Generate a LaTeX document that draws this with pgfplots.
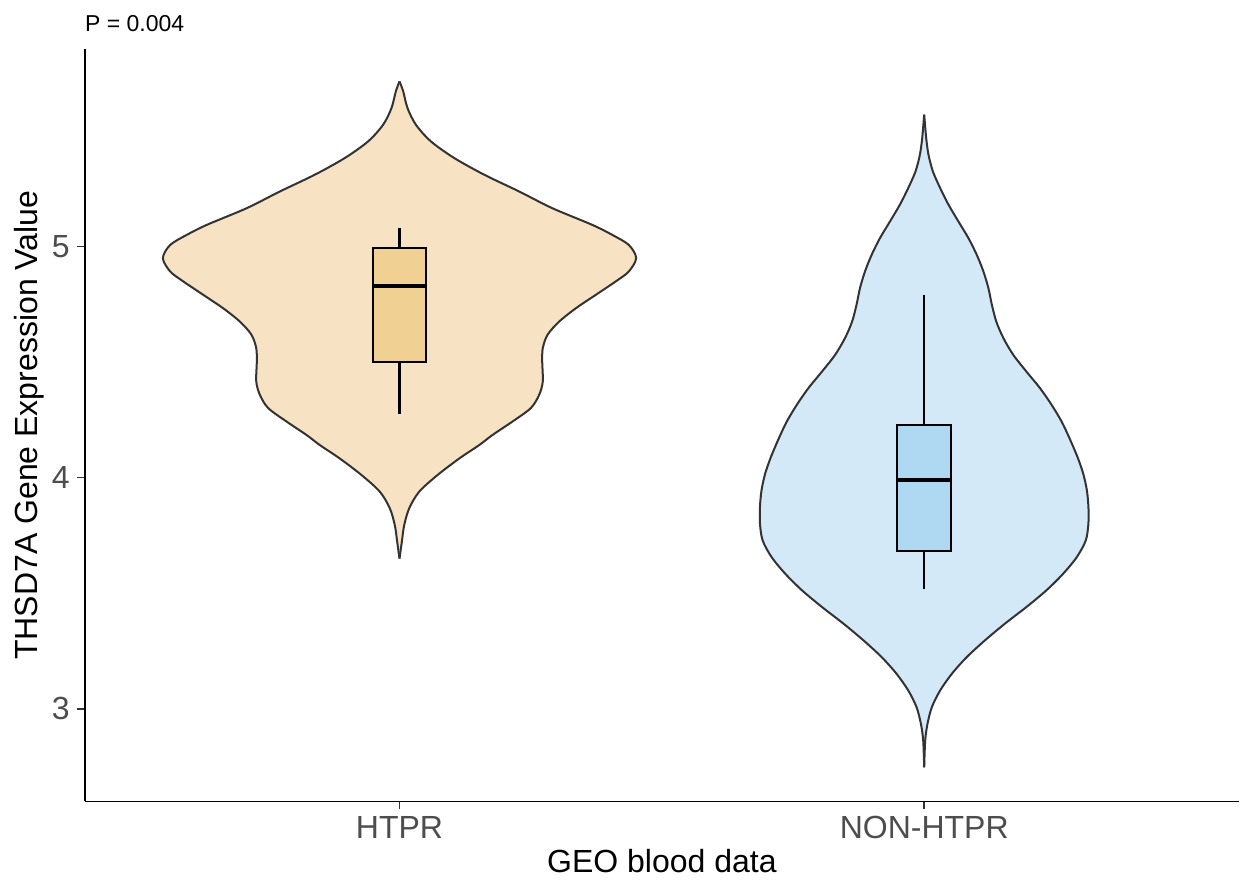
\documentclass[border=0pt]{standalone}
\usepackage{pgfplots}
\pgfplotsset{compat=1.18}
\usepgfplotslibrary{fillbetween}
\usepackage{pgfplotstable}
\usepackage{fontspec}
\setmainfont{Liberation Sans}
\definecolor{htprv}{HTML}{F7E3C3}
\definecolor{htprb}{HTML}{F1D093}
\definecolor{nonv}{HTML}{D4E9F8}
\definecolor{nonb}{HTML}{AFD9F2}
\definecolor{outl}{HTML}{333333}
\definecolor{tickg}{HTML}{4D4D4D}

% violin half-widths (v = expression value, w = half width)
\pgfplotstableread{
v w
5.713 0
5.670 0.0070
5.598 0.0152
5.526 0.0311
5.454 0.0596
5.382 0.104
5.310 0.161
5.237 0.228
5.165 0.291
5.093 0.367
5.050 0.405
5.006 0.437
4.949 0.451
4.891 0.437
4.848 0.412
4.790 0.374
4.732 0.336
4.674 0.304
4.617 0.282
4.559 0.273
4.501 0.272
4.415 0.273
4.357 0.266
4.300 0.250
4.242 0.215
4.184 0.177
4.141 0.152
4.083 0.114
4.011 0.0723
3.939 0.0374
3.867 0.0184
3.794 0.0089
3.722 0.0044
3.650 0
}\htpr

\pgfplotstableread{
v w
5.569 0
5.468 0.0038
5.396 0.0082
5.324 0.0165
5.252 0.0304
5.180 0.0463
5.107 0.0653
5.035 0.0844
4.963 0.1002
4.891 0.1129
4.819 0.1224
4.747 0.1290
4.674 0.1375
4.603 0.151
4.530 0.170
4.458 0.195
4.386 0.221
4.314 0.243
4.242 0.262
4.170 0.277
4.090 0.292
4.018 0.303
3.946 0.310
3.874 0.313
3.802 0.313
3.729 0.308
3.657 0.291
3.585 0.265
3.513 0.233
3.441 0.195
3.369 0.154
3.297 0.116
3.224 0.081
3.152 0.0527
3.080 0.0304
3.008 0.0146
2.936 0.0063
2.864 0.0019
2.748 0
}\nonhtpr

\begin{document}
\begin{tikzpicture}
\begin{axis}[name=ax, scale only axis, width=577.15pt, height=376.25pt,
  xmin=0.4, xmax=2.6, ymin=2.6, ymax=5.853,
  axis x line*=bottom, axis y line*=left,
  axis line style={black, line width=0.9pt},
  xtick={1,2}, xticklabels={HTPR,NON-HTPR},
  ytick={3,4,5},
  tick align=outside, major tick length=4pt,
  tick style={outl, line width=0.8pt},
  ticklabel style={font=\fontsize{16}{19}\selectfont, text=tickg},
  /pgf/number format/assume math mode=true,
  xlabel={GEO blood data}, ylabel={THSD7A Gene Expression Value},
  label style={font=\fontsize{16}{19}\selectfont},
  xlabel style={at={(axis description cs:0.5,0)}, anchor=base, yshift=-35.6pt},
  ylabel style={at={(axis description cs:-0.0407,0.5)}, anchor=base},
  clip=false]

% HTPR violin
\addplot[name path=hr, draw=none, smooth] table[x expr=1+\thisrow{w}, y=v]{\htpr};
\addplot[name path=hl, draw=none, smooth] table[x expr=1-\thisrow{w}, y=v]{\htpr};
\addplot[fill=htprv, draw=none] fill between[of=hr and hl];
\addplot[draw=outl, line width=1pt, smooth] table[x expr=1+\thisrow{w}, y=v]{\htpr};
\addplot[draw=outl, line width=1pt, smooth] table[x expr=1-\thisrow{w}, y=v]{\htpr};

% NON-HTPR violin
\addplot[name path=nr, draw=none, smooth] table[x expr=2+\thisrow{w}, y=v]{\nonhtpr};
\addplot[name path=nl, draw=none, smooth] table[x expr=2-\thisrow{w}, y=v]{\nonhtpr};
\addplot[fill=nonv, draw=none] fill between[of=nr and nl];
\addplot[draw=outl, line width=1pt, smooth] table[x expr=2+\thisrow{w}, y=v]{\nonhtpr};
\addplot[draw=outl, line width=1pt, smooth] table[x expr=2-\thisrow{w}, y=v]{\nonhtpr};

% HTPR box
\addplot[black, line width=1.1pt] coordinates {(1,4.993) (1,5.077)};
\addplot[black, line width=1.1pt] coordinates {(1,4.276) (1,4.499)};
\addplot[draw=black, line width=1pt, fill=htprb] coordinates {(0.949,4.499) (1.051,4.499) (1.051,4.993) (0.949,4.993)} -- cycle;
\addplot[black, line width=2.2pt] coordinates {(0.949,4.828) (1.051,4.828)};

% NON-HTPR box
\addplot[black, line width=1.1pt] coordinates {(2,4.228) (2,4.788)};
\addplot[black, line width=1.1pt] coordinates {(2,3.518) (2,3.684)};
\addplot[draw=black, line width=1pt, fill=nonb] coordinates {(1.949,3.684) (2.051,3.684) (2.051,4.228) (1.949,4.228)} -- cycle;
\addplot[black, line width=2.2pt] coordinates {(1.949,3.990) (2.051,3.990)};

\node[anchor=base west, inner sep=0pt, font=\fontsize{11.5}{13}\selectfont] at (rel axis cs:0,1) [yshift=8.65pt] {P = 0.004};
\end{axis}
\pgfresetboundingbox
\path ([shift={(-42.35pt,-40.25pt)}]ax.south west) rectangle ([shift={(1pt,24.5pt)}]ax.north east);
\end{tikzpicture}
\end{document}
